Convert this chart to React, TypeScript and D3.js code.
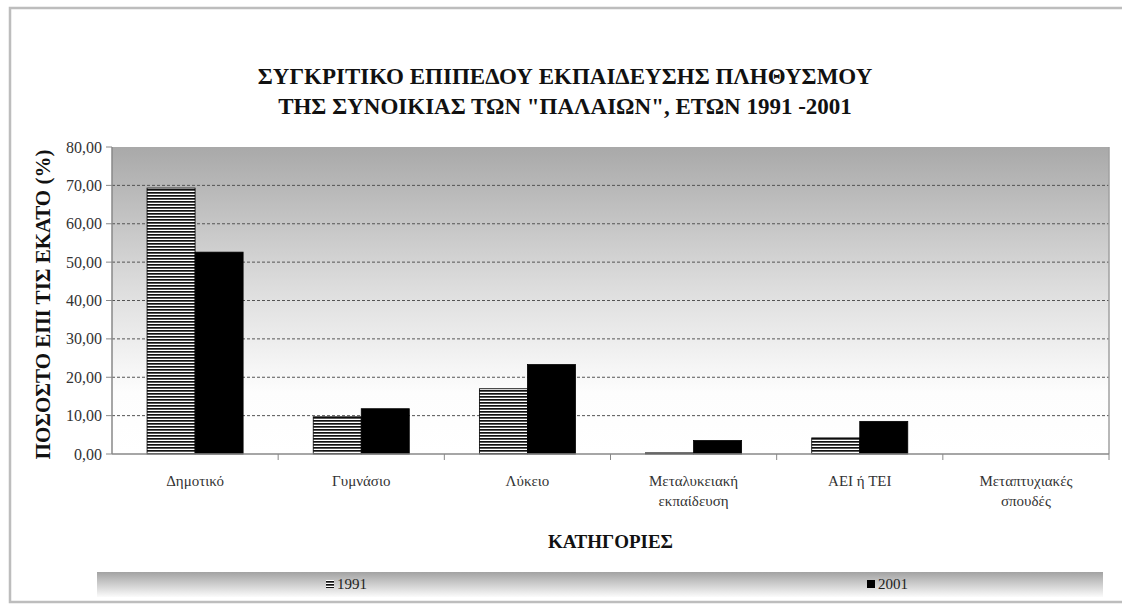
import * as d3 from 'd3'

const categories = ['Δημοτικό', 'Γυμνάσιο', 'Λύκειο', 'Μεταλυκειακή\nεκπαίδευση', 'ΑΕΙ ή ΤΕΙ', 'Μεταπτυχιακές\nσπουδές']
const values1991 = [69.3, 9.7, 17.0, 0.3, 4.2, 0]
const values2001 = [52.6, 11.8, 23.3, 3.5, 8.5, 0]
const series = ['1991', '2001']
const yTicks = [0, 10, 20, 30, 40, 50, 60, 70, 80]
const titleLines = ['ΣΥΓΚΡΙΤΙΚΟ ΕΠΙΠΕΔΟΥ ΕΚΠΑΙΔΕΥΣΗΣ ΠΛΗΘΥΣΜΟΥ', 'ΤΗΣ ΣΥΝΟΙΚΙΑΣ ΤΩΝ "ΠΑΛΑΙΩΝ", ΕΤΩΝ 1991 -2001']

const W = 1122
const H = 605
const SERIF = '"Liberation Serif", "Times New Roman", serif'
const margin = { top: 147, right: 13, bottom: 151, left: 112 }

const x0 = d3.scaleBand().domain(categories).range([margin.left, W - margin.right])
const x1 = d3.scaleBand().domain(series).range([0, x0.bandwidth()]).paddingOuter(0.73).paddingInner(0)
const y = d3.scaleLinear().domain([0, 80]).range([H - margin.bottom, margin.top])
const fmt = (v: number) => d3.format('.2f')(v).replace('.', ',')

// tiny rotation keeps the serif outlines for Greek glyphs
function T({ x, y, angle = 0.01, children, ...rest }: any) {
  return (
    <text transform={`translate(${x},${y}) rotate(${angle})`} style={{ fontFamily: SERIF }} {...rest}>
      {children}
    </text>
  )
}

export default function App() {
  const plotW = W - margin.right - margin.left
  const legendX = [326, 867]
  return (
    <svg width={W} height={H} style={{ position: 'absolute', left: 0, top: 0, background: '#fff', fontFamily: SERIF }}>
      <defs>
        <linearGradient id="plotBg" x1="0" y1="0" x2="0" y2="1">
          <stop offset="0%" stopColor="#a9a9a9" />
          <stop offset="45%" stopColor="#dcdcdc" />
          <stop offset="80%" stopColor="#fdfdfd" />
          <stop offset="100%" stopColor="#ffffff" />
        </linearGradient>
        <linearGradient id="legendBg" x1="0" y1="0" x2="0" y2="1">
          <stop offset="0%" stopColor="#a2a2a2" />
          <stop offset="100%" stopColor="#fbfbfb" />
        </linearGradient>
        <pattern id="hatch" patternUnits="userSpaceOnUse" width="6" height="3">
          <rect width="6" height="3" fill="#fff" />
          <rect width="6" height="1.7" fill="#111" />
        </pattern>
      </defs>

      {/* outer frame */}
      <rect x={10} y={8} width={W + 20} height={594} fill="#fff" stroke="#bdbdbd" strokeWidth={2.5} />

      {/* plot area */}
      <rect x={margin.left} y={y(80)} width={plotW} height={y(0) - y(80)} fill="url(#plotBg)" />
      {yTicks.filter(t => t > 0 && t < 80).map(t => (
        <line key={t} x1={margin.left} x2={W - margin.right} y1={y(t)} y2={y(t)}
          stroke="#555" strokeWidth={1} strokeDasharray="3,2" />
      ))}
      <line x1={W - margin.right} x2={W - margin.right} y1={y(80)} y2={y(0)} stroke="#a0a0a0" strokeWidth={1.5} />

      {/* bars */}
      {categories.map((c, i) => (
        <g key={c} transform={`translate(${x0(c)},0)`}>
          {[{ s: '1991', v: values1991[i] }, { s: '2001', v: values2001[i] }].map(d => (
            <rect key={d.s} x={x1(d.s)} width={x1.bandwidth()} y={y(d.v)} height={y(0) - y(d.v)}
              fill={d.s === '1991' ? 'url(#hatch)' : '#000'}
              stroke={d.v > 0 ? '#000' : 'none'} strokeWidth={0.8} />
          ))}
        </g>
      ))}

      {/* y axis */}
      <line x1={margin.left} x2={margin.left} y1={y(80)} y2={y(0)} stroke="#888" strokeWidth={1.5} />
      {yTicks.map(t => (
        <g key={t}>
          <line x1={margin.left - 6} x2={margin.left} y1={y(t)} y2={y(t)} stroke="#888" />
          <T x={margin.left - 10} y={y(t)} dy="0.35em" textAnchor="end" fontSize={16} fill="#333">{fmt(t)}</T>
        </g>
      ))}

      {/* x axis */}
      <line x1={margin.left} x2={W - margin.right} y1={y(0)} y2={y(0)} stroke="#888" strokeWidth={1.5} />
      {categories.map(c => (
        <line key={c} x1={(x0(c) as number) + x0.step()} x2={(x0(c) as number) + x0.step()}
          y1={y(0)} y2={y(0) + 6} stroke="#888" />
      ))}
      {categories.map(c => (
        <T key={c} x={(x0(c) as number) + x0.bandwidth() / 2} y={486} textAnchor="middle" fontSize={15} fill="#333">
          {c.split('\n').map((line, j) => (
            <tspan key={j} x={0} dy={j === 0 ? 0 : 20}>{line}</tspan>
          ))}
        </T>
      ))}

      {/* axis titles */}
      <T x={(margin.left + W - margin.right) / 2} y={548} textAnchor="middle" fontWeight="bold" fontSize={19} fill="#111">
        ΚΑΤΗΓΟΡΙΕΣ
      </T>
      <T x={50} y={(y(0) + y(80)) / 2 + 4} angle={-90} textAnchor="middle" fontWeight="bold" fontSize={21} fill="#111">
        ΠΟΣΟΣΤΟ ΕΠΙ ΤΙΣ ΕΚΑΤΟ (%)
      </T>

      {/* title */}
      {titleLines.map((t, i) => (
        <T key={i} x={565} y={84 + i * 30} textAnchor="middle" fontWeight="bold" fontSize={23} fill="#111">{t}</T>
      ))}

      {/* legend */}
      <rect x={97} y={572} width={1006} height={25} fill="url(#legendBg)" />
      {series.map((s, i) => (
        <g key={s} transform={`translate(${legendX[i]},584)`}>
          <rect x={0} y={-4} width={8} height={8} fill={s === '1991' ? 'url(#hatch)' : '#000'} />
          <T x={11} y={5} fontSize={15} fill="#222">{s}</T>
        </g>
      ))}
    </svg>
  )
}
